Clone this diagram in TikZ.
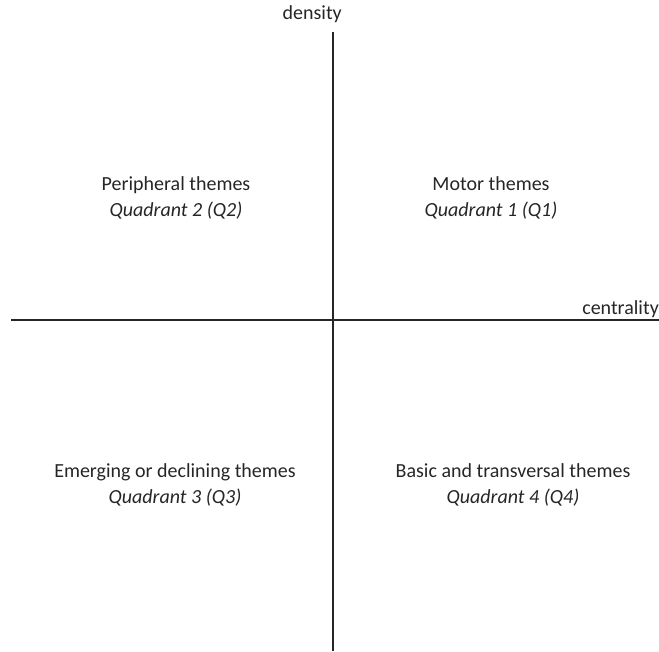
\documentclass[tikz,border=0pt]{standalone}
\usepackage{fontspec}
\setmainfont{Carlito}
\begin{document}
\begin{tikzpicture}[x=1pt,y=-1pt,
  axis/.style={line width=1.6pt,draw=black!85},
  theme/.style={align=center,font=\fontsize{20}{26}\selectfont,text=black!85,inner sep=0pt},
  axislabel/.style={font=\fontsize{20}{24}\selectfont,text=black!85,inner sep=0pt}]
\useasboundingbox (0,0) rectangle (659,651);
% axes
\coordinate (ytop) at (333,32);
\coordinate (ybot) at (333,651);
\coordinate (xleft) at (11,320);
\coordinate (xright) at (659,320);
\draw[axis] (ytop) -- (ybot);
\draw[axis] (xleft) -- (xright);
% axis labels
\node[axislabel,anchor=base east] (dens) at (342,19) {density};
\node[axislabel,anchor=base east] (cent) at (659,314) {centrality};
% quadrant captions
\node[theme] (q2) at (176,198) {Peripheral themes\\\textit{Quadrant 2 (Q2)}};
\node[theme] (q1) at (491,198) {Motor themes\\\textit{Quadrant 1 (Q1)}};
\node[theme] (q3) at (175,485) {Emerging or declining themes\\\textit{Quadrant 3 (Q3)}};
\node[theme] (q4) at (513,485) {Basic and transversal themes\\\textit{Quadrant 4 (Q4)}};
\end{tikzpicture}
\end{document}
